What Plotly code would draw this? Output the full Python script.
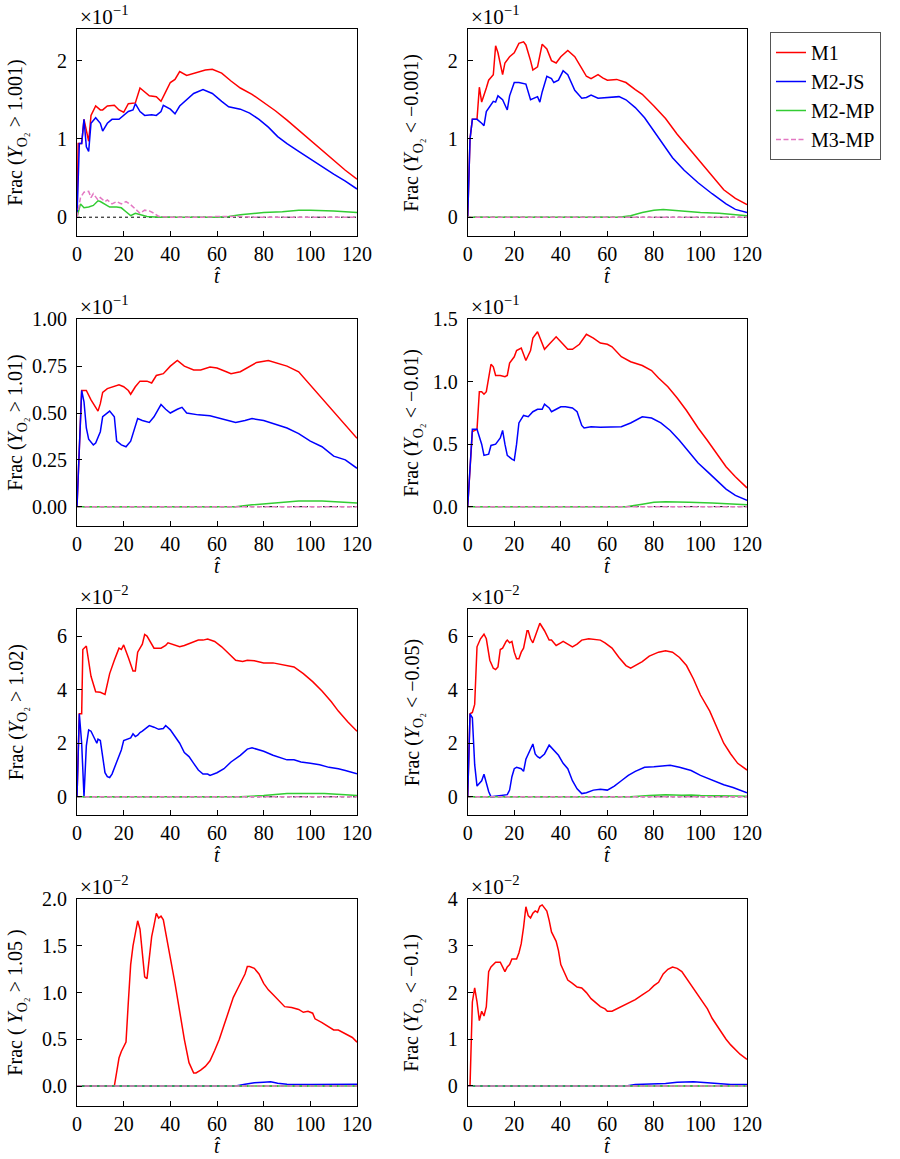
import plotly.graph_objects as go

# ---------------- data (values in units of the panel multiplier) ----------------
T_END = [0, 120]
ZERO = [0, 0]

# Panel 1: Frac(Y_O2 > 1.001), x1e-1
p1_t_m1 = [0,0.5,1,2,3,4,5,6,8,10,11,13,16,18,20,22,25,27,29,31,34,36,38,40,42,44,47,50,55,58,62,66,70,75,80,85,90,95,100,105,110,115,120]
p1_m1 = [0,0.94,0.94,0.94,1.25,1.1,0.97,1.3,1.42,1.37,1.37,1.42,1.43,1.37,1.34,1.45,1.46,1.65,1.6,1.55,1.54,1.48,1.6,1.72,1.76,1.86,1.81,1.84,1.88,1.89,1.84,1.74,1.65,1.57,1.47,1.36,1.24,1.11,0.98,0.85,0.73,0.6,0.485]
p1_t_js = [0,1,2,3,4,5,6,8,10,11,13,15,18,20,22,24,25,27,29,32,34,36,37,40,42,44,47,50,54,58,62,65,70,74,78,82,86,90,95,100,105,110,115,120]
p1_js = [0,0.94,0.94,1.25,0.9,0.84,1.2,1.27,1.2,1.1,1.2,1.25,1.25,1.3,1.35,1.37,1.45,1.35,1.3,1.31,1.3,1.35,1.43,1.38,1.32,1.42,1.5,1.58,1.63,1.58,1.48,1.41,1.38,1.33,1.25,1.15,1.03,0.94,0.84,0.74,0.65,0.55,0.46,0.36]
p1_t_mp = [0,1.5,3,5,7,9,10,12,14,17,19,21,23,25,27,30,35,60,65,70,80,88,95,100,110,120]
p1_mp = [0,0.17,0.12,0.13,0.15,0.21,0.2,0.16,0.13,0.13,0.12,0.07,0.02,0.05,0.03,0.01,0,0,0.01,0.03,0.06,0.07,0.09,0.09,0.08,0.06]
p1_t_m3 = [0,1.5,3,5,6,7,9,10,12,13,15,17,19,21,23,25,27,29,31,33,35,40,55,60,65,70,75,120]
p1_m3 = [0,0.25,0.32,0.33,0.25,0.3,0.22,0.25,0.2,0.22,0.17,0.2,0.17,0.2,0.16,0.1,0.05,0.09,0.08,0.05,0.01,0,0,0.01,0.01,0.01,0,0]

# Panel 2: Frac(Y_O2 < -0.001), x1e-1
p2_t_m1 = [0,1,2,4,5,6,8,9,11,12,13,15,16,18,20,22,24,25,27,28,30,32,34,36,38,40,43,46,49,51,53,56,58,60,64,68,72,75,80,85,90,95,100,105,110,115,120]
p2_m1 = [0,1.0,1.25,1.25,1.66,1.47,1.65,1.75,1.82,2.19,2.1,1.82,1.97,2.05,2.1,2.22,2.24,2.2,2.0,1.88,1.92,2.21,2.15,2.0,1.97,2.05,2.13,2.05,1.9,1.8,1.77,1.82,1.78,1.75,1.76,1.72,1.63,1.57,1.42,1.26,1.06,0.88,0.7,0.52,0.35,0.24,0.16]
p2_t_js = [0,1,2,4,6,7,8,10,11,12,13,15,17,18,20,22,25,27,29,30,31,32,34,36,37,39,41,43,46,49,51,53,56,60,65,68,72,76,80,84,88,93,99,105,111,115,120]
p2_js = [0,1.0,1.25,1.25,1.2,1.17,1.35,1.43,1.48,1.47,1.55,1.5,1.37,1.55,1.72,1.72,1.7,1.5,1.52,1.54,1.47,1.6,1.8,1.77,1.72,1.75,1.87,1.82,1.62,1.52,1.53,1.56,1.52,1.53,1.54,1.5,1.4,1.27,1.1,0.93,0.76,0.6,0.44,0.3,0.17,0.1,0.06]
p2_t_mp = [0,65,70,75,80,84,92,100,108,120]
p2_mp = [0,0,0.02,0.06,0.09,0.1,0.08,0.06,0.05,0.02]

# Panel 3: Frac(Y_O2 > 1.01), x1e-1
p3_t_m1 = [0,2,4,6,8,9,10,11,13,16,18,20,22,23,25,27,30,32,34,37,40,43,46,50,53,57,60,64,66,70,73,77,82,85,90,95,100,105,110,115,120]
p3_m1 = [0,0.62,0.62,0.57,0.53,0.51,0.55,0.61,0.63,0.64,0.65,0.64,0.62,0.6,0.64,0.67,0.67,0.66,0.7,0.71,0.75,0.78,0.75,0.73,0.73,0.745,0.74,0.72,0.71,0.72,0.74,0.77,0.78,0.77,0.75,0.72,0.65,0.58,0.51,0.44,0.365]
p3_t_js = [0,2,3,4,5,7,8,10,11,13,14,16,17,19,21,23,25,26,28,31,33,36,38,40,43,45,47,52,57,60,64,68,72,75,80,85,90,95,100,105,110,115,120]
p3_js = [0,0.62,0.56,0.42,0.36,0.33,0.34,0.4,0.48,0.5,0.51,0.48,0.35,0.33,0.32,0.35,0.43,0.47,0.46,0.45,0.48,0.545,0.52,0.5,0.52,0.53,0.5,0.49,0.485,0.475,0.465,0.45,0.46,0.47,0.46,0.44,0.42,0.39,0.35,0.32,0.27,0.25,0.205]
p3_t_mp = [0,68,75,85,95,105,115,120]
p3_mp = [0,0,0.01,0.02,0.03,0.03,0.025,0.02]

# Panel 4: Frac(Y_O2 < -0.01), x1e-1
p4_t_m1 = [0,2,4,5,6,7,8,9,10,11,12,14,16,17,18,20,21,23,25,27,28,30,32,33,35,38,40,43,45,48,51,54,57,60,62,66,70,75,79,82,86,90,94,99,103,107,111,115,120]
p4_m1 = [0,0.6,0.62,0.92,0.92,0.9,0.92,1.05,1.14,1.12,1.05,1.05,1.04,1.05,1.15,1.2,1.25,1.27,1.17,1.25,1.35,1.4,1.3,1.26,1.3,1.36,1.32,1.26,1.26,1.3,1.38,1.35,1.31,1.3,1.28,1.2,1.16,1.13,1.09,1.03,0.96,0.87,0.77,0.63,0.53,0.43,0.32,0.24,0.15]
p4_t_js = [0,2,4,6,7,9,10,12,14,15,16,17,19,20,21,22,24,26,28,30,32,33,35,36,38,40,42,45,47,49,50,53,57,62,66,70,75,79,83,87,91,95,99,103,107,111,115,120]
p4_js = [0,0.62,0.62,0.5,0.41,0.42,0.49,0.5,0.55,0.61,0.5,0.41,0.38,0.37,0.5,0.67,0.73,0.72,0.76,0.78,0.78,0.82,0.79,0.76,0.78,0.8,0.8,0.79,0.76,0.65,0.63,0.64,0.635,0.64,0.64,0.67,0.72,0.71,0.67,0.61,0.53,0.44,0.35,0.28,0.21,0.14,0.09,0.05]
p4_t_mp = [0,68,75,80,85,90,95,105,112,120]
p4_mp = [0,0,0.02,0.035,0.04,0.035,0.035,0.03,0.025,0.015]

# Panel 5: Frac(Y_O2 > 1.02), x1e-2
p5_t_m1 = [0,1,2,2.5,4,5,6,8,10,12,14,16,18,19,20,22,24,25,26,28,29,30,32,33,36,38,39,41,44,46,49,52,54,56,59,62,65,68,71,73,76,80,84,87,90,93,97,101,105,109,112,116,120]
p5_m1 = [0,3.1,3.1,5.5,5.63,5.0,4.5,3.92,3.9,3.82,4.6,5.1,5.55,5.5,5.67,5.2,4.7,4.7,5.4,5.7,6.06,6.0,5.7,5.55,5.55,5.65,5.75,5.7,5.6,5.65,5.75,5.85,5.85,5.89,5.8,5.6,5.35,5.1,5.05,5.1,5.08,5.0,5.0,4.95,4.88,4.85,4.6,4.3,3.95,3.55,3.2,2.8,2.45]
p5_t_js = [0,1,2,3,4,5,6,8,8.5,9,10,11,12,13,14,15,17,19,20,22,23,24,25,26,27,28,30,31,33,35,37,38,40,42,44,46,48,50,52,54,56,57,60,63,66,70,73,75,78,80,84,87,90,93,96,100,104,108,112,115,120]
p5_js = [0,3.1,2.0,0,1.9,2.5,2.45,2.1,2.0,2.15,2.1,1.5,0.9,0.75,0.72,0.85,1.3,1.75,2.1,2.15,2.2,2.35,2.25,2.3,2.4,2.45,2.6,2.66,2.6,2.52,2.55,2.66,2.5,2.25,2.0,1.65,1.5,1.25,1.0,0.85,0.85,0.8,0.9,1.05,1.3,1.55,1.78,1.83,1.75,1.7,1.55,1.45,1.38,1.38,1.3,1.25,1.2,1.1,1.05,0.98,0.86]
p5_t_mp = [0,70,80,90,100,106,115,120]
p5_mp = [0,0,0.05,0.12,0.12,0.12,0.08,0.05]

# Panel 6: Frac(Y_O2 < -0.05), x1e-2
p6_t_m1 = [0,1,2,3,4,5.5,7,8,9.5,11,12,13,14,15,16.5,17,18,19,20,21,22,23,24,25.5,26,27,28,29.5,31,33,35,36,38,40,41,43,45,47,49,52,55,57,59,62,65,68,70,72,75,78,82,85,88,91,94,97,100,104,107,110,113,116,120]
p6_m1 = [0,3.1,3.15,3.45,5.6,5.9,6.07,5.9,5.1,4.8,4.75,4.85,5.5,5.55,5.8,5.85,5.75,5.8,5.4,5.15,5.15,5.4,5.55,6.2,6.2,5.9,5.75,6.1,6.48,6.2,5.85,5.85,5.65,5.75,5.8,5.7,5.6,5.7,5.85,5.9,5.88,5.85,5.75,5.55,5.2,4.9,4.8,4.9,5.05,5.25,5.4,5.45,5.4,5.2,4.9,4.4,3.8,3.2,2.6,2.0,1.6,1.25,1.0]
p6_t_js = [0,1,2,3,4,5,6,7,8,9,10,12,15,17,18,19,20,21,23,24,25,27,28,29,30,31,33,35,37,39,41,43,45,47,49,51,54,57,60,63,66,69,72,76,80,84,87,91,96,100,105,110,114,118,120]
p6_js = [0,3.1,2.95,1.2,0.4,0.5,0.6,0.84,0.5,0.2,0,0.02,0.05,0.08,0.25,0.75,1.05,1.1,1.05,0.95,1.4,1.75,1.97,1.6,1.5,1.45,1.6,1.93,1.75,1.55,1.25,1.05,0.6,0.3,0.12,0.15,0.25,0.28,0.25,0.4,0.6,0.8,0.95,1.1,1.12,1.15,1.18,1.1,0.98,0.8,0.62,0.45,0.35,0.2,0.15]
p6_t_mp = [0,70,78,85,92,96,100,108,115,120]
p6_mp = [0,0,0.05,0.08,0.06,0.07,0.05,0.05,0.03,0.02]

# Panel 7: Frac(Y_O2 > 1.05), x1e-2
p7_t_m1 = [0,16,17,18,19,20,21,22,23,24,25,26,27,28,29,30,31,32,33,34,35,36,37,38,39,40,42,44,46,48,50,51,53,55,57,59,61,63,65,67,69,71,72,73,74,76,78,80,82,84,87,89,92,95,97,99,101,102,105,108,110,112,115,118,120]
p7_m1 = [0,0,0.15,0.3,0.37,0.42,0.47,0.9,1.3,1.5,1.62,1.77,1.68,1.45,1.17,1.15,1.4,1.6,1.72,1.85,1.8,1.82,1.78,1.65,1.5,1.35,1.1,0.8,0.5,0.25,0.14,0.14,0.17,0.21,0.27,0.38,0.5,0.65,0.8,0.95,1.05,1.15,1.2,1.28,1.28,1.26,1.2,1.1,1.03,0.98,0.9,0.85,0.84,0.82,0.79,0.8,0.78,0.72,0.68,0.63,0.6,0.6,0.56,0.52,0.47]
p7_t_js = [0,68,72,76,80,83,86,90,100,110,120]
p7_js = [0,0,0.02,0.035,0.04,0.045,0.03,0.02,0.015,0.015,0.02]

# Panel 8: Frac(Y_O2 < -0.1), x1e-2
p8_t_m1 = [0,1,2,3,4,5,6,7,8,9,10,11,12,14,16,17,18,19,21,22,23,24,25,26,27,28,29,30,31,32,33,34,35,36,38,39,40,42,43,45,47,49,51,53,55,57,59,60,62,64,67,70,72,75,78,80,82,84,86,88,90,92,94,97,99,101,103,105,107,109,111,113,115,117,120]
p8_m1 = [0,0,1.8,2.1,1.8,1.4,1.6,1.5,1.7,2.45,2.55,2.6,2.65,2.65,2.45,2.55,2.6,2.72,2.72,2.85,3.05,3.4,3.84,3.65,3.6,3.7,3.75,3.72,3.85,3.88,3.8,3.75,3.55,3.3,3.1,2.9,2.6,2.4,2.27,2.2,2.12,2.1,2.0,1.87,1.78,1.7,1.65,1.6,1.6,1.65,1.72,1.8,1.85,1.95,2.05,2.15,2.22,2.4,2.5,2.55,2.52,2.45,2.3,2.1,1.95,1.8,1.65,1.45,1.3,1.15,1.0,0.88,0.78,0.68,0.57]
p8_t_js = [0,68,72,80,85,90,97,103,108,113,120]
p8_js = [0,0,0.03,0.05,0.05,0.08,0.09,0.07,0.05,0.03,0.03]

SERIES_NAMES = ["M1", "M2-JS", "M2-MP", "M3-MP"]
X_TICKS = [0, 20, 40, 60, 80, 100, 120]

panels = [
    dict(data=[(p1_t_m1, p1_m1), (p1_t_js, p1_js), (p1_t_mp, p1_mp), (p1_t_m3, p1_m3)],
         yr=[-0.24, 2.4], yt=[0, 1, 2], fmt="d", exp="−1", lab="Frac (<i>Y</i><sub>O₂</sub> &gt; 1.001)"),
    dict(data=[(p2_t_m1, p2_m1), (p2_t_js, p2_js), (p2_t_mp, p2_mp), (T_END, ZERO)],
         yr=[-0.24, 2.4], yt=[0, 1, 2], fmt="d", exp="−1", lab="Frac (<i>Y</i><sub>O₂</sub> &lt; −0.001)"),
    dict(data=[(p3_t_m1, p3_m1), (p3_t_js, p3_js), (p3_t_mp, p3_mp), (T_END, ZERO)],
         yr=[-0.103, 1.0], yt=[0, 0.25, 0.5, 0.75, 1.0], fmt=".2f", exp="−1", lab="Frac (<i>Y</i><sub>O₂</sub> &gt; 1.01)"),
    dict(data=[(p4_t_m1, p4_m1), (p4_t_js, p4_js), (p4_t_mp, p4_mp), (T_END, ZERO)],
         yr=[-0.155, 1.5], yt=[0, 0.5, 1.0, 1.5], fmt=".1f", exp="−1", lab="Frac (<i>Y</i><sub>O₂</sub> &lt; −0.01)"),
    dict(data=[(p5_t_m1, p5_m1), (p5_t_js, p5_js), (p5_t_mp, p5_mp), (T_END, ZERO)],
         yr=[-0.69, 7.0], yt=[0, 2, 4, 6], fmt="d", exp="−2", lab="Frac (<i>Y</i><sub>O₂</sub> &gt; 1.02)"),
    dict(data=[(p6_t_m1, p6_m1), (p6_t_js, p6_js), (p6_t_mp, p6_mp), (T_END, ZERO)],
         yr=[-0.69, 7.0], yt=[0, 2, 4, 6], fmt="d", exp="−2", lab="Frac (<i>Y</i><sub>O₂</sub> &lt; −0.05)"),
    dict(data=[(p7_t_m1, p7_m1), (p7_t_js, p7_js), (T_END, ZERO), (T_END, ZERO)],
         yr=[-0.214, 2.0], yt=[0, 0.5, 1.0, 1.5, 2.0], fmt=".1f", exp="−2", lab="Frac ( <i>Y</i><sub>O₂</sub> &gt; 1.05 )"),
    dict(data=[(p8_t_m1, p8_m1), (p8_t_js, p8_js), (T_END, ZERO), (T_END, ZERO)],
         yr=[-0.43, 4.0], yt=[0, 1, 2, 3, 4], fmt="d", exp="−2", lab="Frac (<i>Y</i><sub>O₂</sub> &lt; −0.1)"),
]

# ---------------- styling / layout ----------------
W, H = 900, 1159
FONT = "Liberation Serif"
FS = 20
COLS = [(77, 357), (467.7, 747)]
ROWS = [(29.3, 236), (319.3, 526), (609.3, 815.3), (899.3, 1106)]
STYLES = [dict(color="#ff0000", width=1.5, dash="solid"),
          dict(color="#0000ff", width=1.5, dash="solid"),
          dict(color="#33cc33", width=1.5, dash="solid"),
          dict(color="#e377c2", width=1.5, dash="5px,2.5px")]
TITLE_X = [17, 413]

fig = go.Figure()
layout = dict(width=W, height=H, margin=dict(l=0, r=0, t=0, b=0), autosize=False,
              paper_bgcolor="white", plot_bgcolor="white",
              font=dict(family=FONT, size=FS, color="black"),
              showlegend=True,
              legend=dict(x=770 / W, y=1 - 32 / H, xanchor="left", yanchor="top",
                          bordercolor="#555555", borderwidth=1, bgcolor="white",
                          font=dict(family=FONT, size=FS), itemwidth=30,
                          tracegroupgap=0))
annotations = []
shapes = []

for i, p in enumerate(panels):
    r, c = divmod(i, 2)
    n = i + 1
    xa = "x" if n == 1 else f"x{n}"
    ya = "y" if n == 1 else f"y{n}"
    x0, x1 = COLS[c]
    top, bot = ROWS[r]
    for k, (tt, vv) in enumerate(p["data"]):
        fig.add_trace(go.Scatter(x=tt, y=vv, mode="lines", name=SERIES_NAMES[k],
                                 line=STYLES[k], xaxis=xa, yaxis=ya,
                                 showlegend=(i == 0), legendgroup=SERIES_NAMES[k]))
    axcommon = dict(showline=True, mirror=True, linecolor="black", linewidth=1,
                    ticks="inside", ticklen=5, tickcolor="black", tickwidth=1,
                    showgrid=False, zeroline=False, automargin=False,
                    tickfont=dict(family=FONT, size=FS, color="black"))
    layout["xaxis" if n == 1 else f"xaxis{n}"] = dict(
        domain=[x0 / W, x1 / W], range=[0, 120], anchor=ya,
        tickmode="array", tickvals=X_TICKS, ticklabelstandoff=0, **axcommon)
    ytext = [format(v, p["fmt"]) if p["fmt"] != "d" else str(int(v)) for v in p["yt"]]
    layout["yaxis" if n == 1 else f"yaxis{n}"] = dict(
        domain=[1 - bot / H, 1 - top / H], range=p["yr"], anchor=xa,
        tickmode="array", tickvals=p["yt"], ticktext=ytext, ticklabelstandoff=5, **axcommon)
    # zero reference line
    shapes.append(dict(type="line", xref=f"{xa} domain", yref=ya, x0=0, x1=1, y0=0, y1=0,
                       line=dict(color="black", width=1, dash="dot"), layer="below"))
    # multiplier
    annotations.append(dict(text=f"×10<sup>{p['exp']}</sup>", xref="paper", yref="paper",
                            x=(x0 + 1) / W, y=1 - (top - 14) / H, xanchor="left", yanchor="middle",
                            showarrow=False, font=dict(family=FONT, size=21)))
    # y label
    annotations.append(dict(text=p["lab"], xref="paper", yref="paper", textangle=-90,
                            x=TITLE_X[c] / W, y=1 - (top + bot) / 2 / H,
                            xanchor="center", yanchor="middle", showarrow=False,
                            font=dict(family=FONT, size=FS)))
    # x label
    annotations.append(dict(text="<i>t̂</i>", xref="paper", yref="paper",
                            x=(x0 + x1) / 2 / W, y=1 - (bot + 40) / H,
                            xanchor="center", yanchor="middle", showarrow=False,
                            font=dict(family=FONT, size=FS)))

layout["annotations"] = annotations
layout["shapes"] = shapes
fig.update_layout(**layout)
fig.write_html("out.html")
